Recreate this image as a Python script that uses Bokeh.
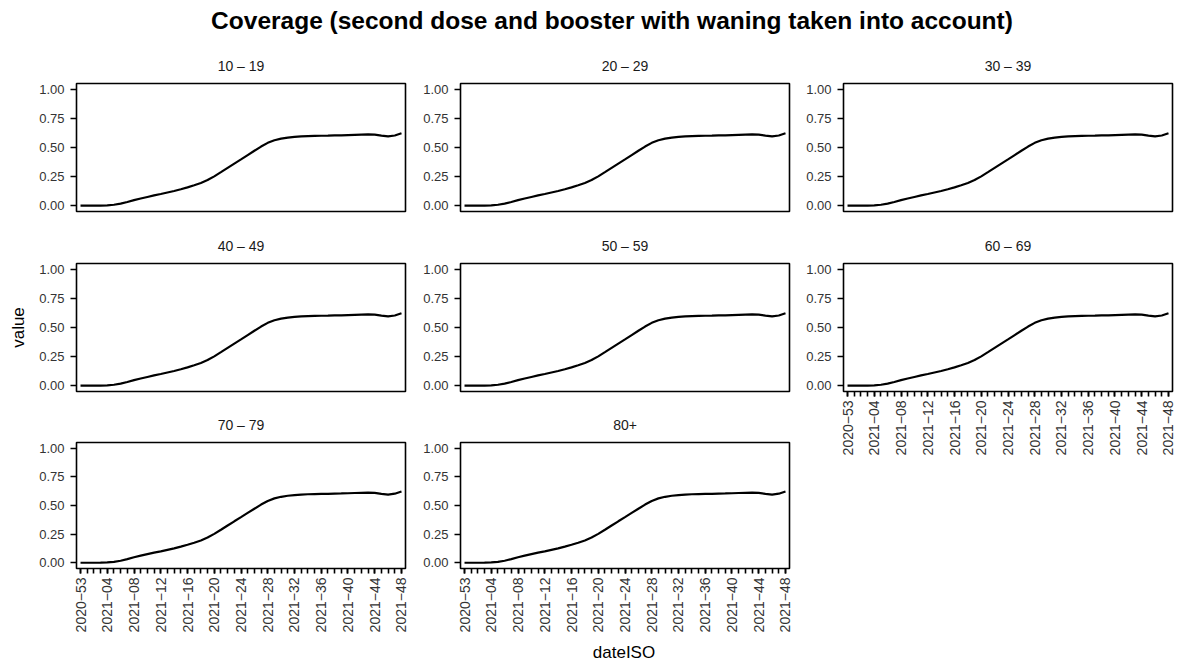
import numpy as np
from bokeh.plotting import figure
from bokeh.models import Range1d, FixedTicker, NumeralTickFormatter, Label
from bokeh.layouts import column, row
from bokeh.embed import file_html
from bokeh.resources import INLINE

# ---------------- data ----------------
title_text = "Coverage (second dose and booster with waning taken into account)"
x_title = "dateISO"
y_title = "value"

age_groups = ["10 – 19", "20 – 29", "30 – 39", "40 – 49",
              "50 – 59", "60 – 69", "70 – 79", "80+"]

weeks = ["2020−53",
         "2021−01", "2021−02", "2021−03", "2021−04", "2021−05", "2021−06", "2021−07", "2021−08",
         "2021−09", "2021−10", "2021−11", "2021−12", "2021−13", "2021−14", "2021−15", "2021−16",
         "2021−17", "2021−18", "2021−19", "2021−20", "2021−21", "2021−22", "2021−23", "2021−24",
         "2021−25", "2021−26", "2021−27", "2021−28", "2021−29", "2021−30", "2021−31", "2021−32",
         "2021−33", "2021−34", "2021−35", "2021−36", "2021−37", "2021−38", "2021−39", "2021−40",
         "2021−41", "2021−42", "2021−43", "2021−44", "2021−45", "2021−46", "2021−47", "2021−48"]

# coverage per week (identical curve in every age-group panel)
coverage = [0.000, 0.000, 0.000, 0.001, 0.003, 0.008, 0.018, 0.032, 0.048,
            0.062, 0.075, 0.088, 0.100, 0.113, 0.126, 0.141, 0.157,
            0.175, 0.195, 0.220, 0.252, 0.288, 0.325, 0.362, 0.398,
            0.435, 0.472, 0.508, 0.540, 0.562, 0.576, 0.585, 0.591,
            0.595, 0.598, 0.600, 0.601, 0.602, 0.604, 0.605, 0.607,
            0.609, 0.611, 0.612, 0.610, 0.602, 0.595, 0.603, 0.622]

y_ticks = [0.0, 0.25, 0.5, 0.75, 1.0]
label_step = 4

FONT = "Liberation Sans"
x_idx = list(range(len(weeks)))
Y0, Y1 = -0.05, 1.05
STRIP_GAP = 18  # px between frame top and strip-label centre
PAD_TOP = 2


def blank_fig(w, h, x_range, y_range, left=0, right=0):
    f = figure(width=w, height=h, title=None, x_range=x_range, y_range=y_range,
               toolbar_location=None, output_backend="svg",
               min_border_left=left, min_border_right=right,
               min_border_top=0, min_border_bottom=0,
               x_axis_location=None, y_axis_location=None)
    f.outline_line_color = None
    f.xgrid.visible = False
    f.ygrid.visible = False
    f.background_fill_color = "white"
    f.border_fill_color = "white"
    return f


def make_panel(label, w, h, left, right, top, bottom, show_x=False, ylab=None):
    xr = Range1d(-0.6, len(weeks) - 1 + 0.6)
    sh = top - PAD_TOP
    p = figure(width=w, height=h - sh, title=None,
               x_range=xr, y_range=Range1d(Y0, Y1),
               toolbar_location=None, output_backend="svg",
               min_border_left=left, min_border_right=right,
               min_border_top=PAD_TOP, min_border_bottom=bottom,
               x_axis_location="below" if show_x else None)
    p.xgrid.visible = False
    p.ygrid.visible = False
    p.outline_line_color = "black"
    p.outline_line_width = 1.6
    p.background_fill_color = "white"
    p.border_fill_color = "white"

    ya = p.yaxis[0]
    ya.ticker = FixedTicker(ticks=y_ticks)
    ya.formatter = NumeralTickFormatter(format="0.00")
    ya.axis_line_color = None
    ya.major_tick_out = 6
    ya.major_tick_in = 0
    ya.minor_tick_out = 0
    ya.minor_tick_in = 0
    ya.major_tick_line_color = "black"
    ya.major_tick_line_width = 1.6
    ya.major_label_text_font = FONT
    ya.major_label_text_font_size = "13px"
    ya.major_label_text_color = "#333333"
    ya.major_label_standoff = 6
    if ylab:
        ya.axis_label = ylab
        ya.axis_label_text_font = FONT
        ya.axis_label_text_font_size = "17px"
        ya.axis_label_text_font_style = "normal"
        ya.axis_label_text_color = "black"
        ya.axis_label_standoff = 8

    if show_x:
        xa = p.xaxis[0]
        major = list(range(0, len(weeks), label_step))
        xa.ticker = FixedTicker(ticks=major, minor_ticks=x_idx)
        xa.major_label_overrides = {i: weeks[i] for i in major}
        xa.major_label_orientation = np.pi / 2
        xa.axis_line_color = None
        xa.major_tick_out = 5
        xa.major_tick_in = 0
        xa.minor_tick_out = 5
        xa.minor_tick_in = 0
        xa.major_tick_line_color = "black"
        xa.minor_tick_line_color = "black"
        xa.major_tick_line_width = 1.6
        xa.minor_tick_line_width = 1.6
        xa.major_label_text_font = FONT
        xa.major_label_text_font_size = "14px"
        xa.major_label_text_color = "#333333"
        xa.major_label_standoff = 4

    p.line(x=x_idx, y=coverage, line_color="black", line_width=2.2)

    # strip (facet label) above the panel
    s = blank_fig(w, sh, xr, Range1d(0, sh), left, right)
    s.add_layout(Label(x=(len(weeks) - 1) / 2, y=STRIP_GAP - PAD_TOP,
                       text=label, text_align="center", text_baseline="middle",
                       text_font=FONT, text_font_size="14px",
                       text_color="#1a1a1a"))
    return column(s, p)


# column 1
f10 = make_panel(age_groups[0], 420, 179, 76, 15, 35, 16)
f40 = make_panel(age_groups[3], 420, 180, 76, 15, 36, 16, ylab=y_title)
f70 = make_panel(age_groups[6], 420, 228, 76, 15, 35, 65, show_x=True)
# column 2
f20 = make_panel(age_groups[1], 383, 179, 40, 14, 35, 16)
f50 = make_panel(age_groups[4], 383, 180, 40, 14, 36, 16)
f80 = make_panel(age_groups[7], 383, 228, 40, 14, 35, 65, show_x=True)
# column 3
f30 = make_panel(age_groups[2], 384, 179, 40, 15, 35, 16)
f60 = make_panel(age_groups[5], 384, 408, 40, 15, 36, 244, show_x=True)

TOTAL_W = 1187

# title strip
tfig = blank_fig(TOTAL_W, 48, Range1d(0, TOTAL_W), Range1d(0, 48))
tfig.add_layout(Label(x=611.5, y=48 - 19.5, text=title_text, text_align="center",
                      text_baseline="middle", text_font=FONT,
                      text_font_size="24.5px", text_font_style="bold",
                      text_color="black"))

# x axis title strip
xfig = blank_fig(TOTAL_W, 27, Range1d(0, TOTAL_W), Range1d(0, 27))
xfig.add_layout(Label(x=623.5, y=10, text=x_title, text_align="center",
                      text_baseline="middle", text_font=FONT,
                      text_font_size="17px", text_color="black"))

layout = column(tfig,
                row(column(f10, f40, f70), column(f20, f50, f80), column(f30, f60)),
                xfig)

open("out.html", "w").write(file_html(layout, INLINE))
